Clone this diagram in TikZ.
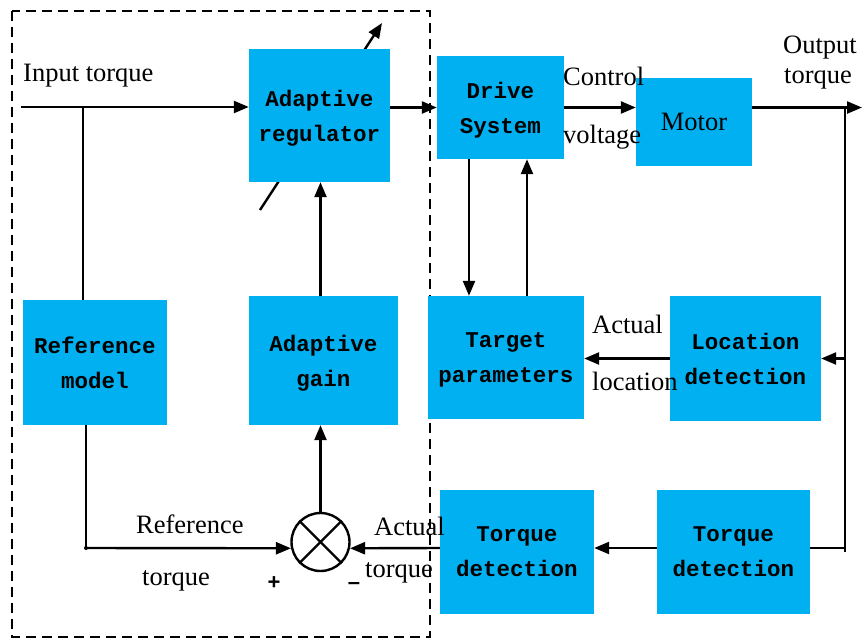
\documentclass[tikz,border=0pt]{standalone}
\usepackage{fontspec}
\setmainfont{Liberation Serif}
\setsansfont{Liberation Sans}
\newfontfamily\boxfont{Liberation Mono}
\usetikzlibrary{arrows.meta}
\definecolor{boxblue}{HTML}{00B0F0}
\begin{document}
\begin{tikzpicture}[x=1pt,y=-1pt,
  blk/.style={fill=boxblue, inner sep=0pt, align=center, text depth=0pt, font=\boxfont\bfseries\fontsize{22.5}{35}\selectfont},
  lbl/.style={inner sep=0pt, anchor=base west, font=\fontsize{26.5}{30}\selectfont},
  sgn/.style={inner sep=0pt, font=\sffamily\bfseries\fontsize{22}{24}\selectfont},
  ln/.style={line width=2.4pt},
  arr/.style={ln, -{Triangle[length=15pt,width=12pt]}},
]
\useasboundingbox (0,0) rectangle (863,641);
% dashed frame
\draw[ln, dash pattern=on 10pt off 6pt] (12,11) rectangle (430,637);

% diagonal adjustment arrow (behind regulator)
\coordinate (dg1) at (260,210);
\coordinate (dg2) at (382,23);
\draw[arr] (dg1) -- (dg2);

% blocks
\node[blk, minimum width=141pt, minimum height=133pt] (reg) at (319.5,115.5) {Adaptive\\regulator};
\node[blk, minimum width=127pt, minimum height=103pt] (drive) at (500.5,107.5) {Drive\\System};
\node[blk, minimum width=116pt, minimum height=88pt, font=\fontsize{26.5}{30}\selectfont] (motor) at (694,122) {Motor};
\node[blk, minimum width=144pt, minimum height=125pt] (refm) at (95,362.5) {Reference\\model};
\node[blk, minimum width=149pt, minimum height=129pt] (gain) at (323.5,360.5) {Adaptive\\gain};
\node[blk, minimum width=156pt, minimum height=123pt] (target) at (506,357.5) {Target\\parameters};
\node[blk, minimum width=151pt, minimum height=125pt] (loc) at (745.5,358.5) {Location\\detection};
\node[blk, minimum width=154pt, minimum height=124pt] (tdL) at (517,552) {Torque\\detection};
\node[blk, minimum width=153pt, minimum height=124pt] (tdR) at (733.5,552) {Torque\\detection};

% summing junction
\node[draw, circle, ln, minimum size=58pt, inner sep=0pt] (sum) at (320.5,542) {};
\draw[ln] (sum.north west) -- (sum.south east);
\draw[ln] (sum.north east) -- (sum.south west);

% input and reference path
\coordinate (in) at (21,107);
\coordinate (ij) at (83,107);
\draw[arr] (in) -- (in -| reg.west);
\draw[ln] (ij) -- (ij |- refm.north);
\coordinate (rj) at (86,548);
\draw[ln] (rj |- refm.south) -- (rj);
\fill (rj) circle (2pt);
\draw[arr] (rj) -- (sum.192);

% adaptive loop
\draw[arr] (sum.north) -- (sum.north |- gain.south);
\draw[arr] (gain.north -| sum.north) -- (reg.south -| sum.north);
\draw[arr] (reg.east |- drive.west) -- (drive.west);

% drive / target
\draw[arr] ([xshift=-31.5pt]drive.south) -- ([xshift=-31.5pt]drive.south |- target.north);
\draw[arr] ([xshift=26.5pt]drive.south |- target.north) -- ([xshift=26.5pt]drive.south);

% forward path
\draw[arr] (drive.east) -- (drive.east -| motor.west);
\coordinate (out) at (862,107.5);
\draw[arr] (drive.east -| motor.east) -- (out);

% feedback
\coordinate (fb) at (845,107.5);
\coordinate (fbb) at (845,552);
\coordinate (fbt) at (845,548);
\draw[ln] (fb) -- (fbb);
\draw[arr] (fb |- loc.east) -- (loc.east);
\draw[arr] (loc.west) -- (target.east |- loc.west);
\draw[ln] (fbt) -- (fbt -| tdR.east);
\draw[arr] (tdR.west |- fbt) -- (tdL.east |- fbt);
\draw[arr] (tdL.west |- fbt) -- (sum.348);

% labels
\node[lbl] (l1) at (23,81) {Input torque};
\node[lbl] (l2) at (563,85) {Control};
\node[lbl] (l3) at (563,143) {voltage};
\node[lbl] (l4) at (783,53) {Output};
\node[lbl] (l5) at (784,83) {torque};
\node[lbl] (l6) at (592,333) {Actual};
\node[lbl] (l7) at (592,390) {location};
\node[lbl] (l8) at (136,533) {Reference};
\node[lbl] (l9) at (142,585) {torque};
\node[lbl] (l10) at (374,535) {Actual};
\node[lbl] (l11) at (365,577) {torque};
\node[sgn] (plus) at (274,583) {+};
\node[sgn] (minus) at (354,586) {\textendash};
\end{tikzpicture}
\end{document}
